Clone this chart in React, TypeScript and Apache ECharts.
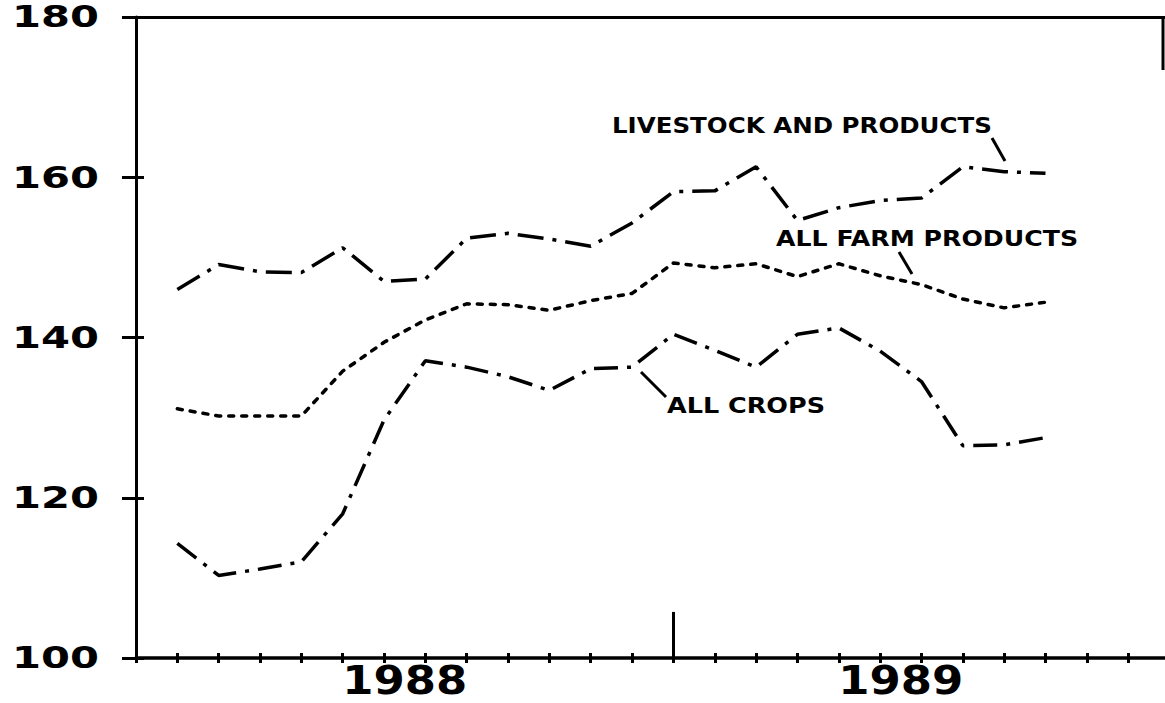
import { useEffect, useRef } from "react";
import * as echarts from "echarts";

// Monthly index: 1 = Jan 1988 ... 22 = Oct 1989
const months = [
  "Jan 1988", "Feb 1988", "Mar 1988", "Apr 1988", "May 1988", "Jun 1988",
  "Jul 1988", "Aug 1988", "Sep 1988", "Oct 1988", "Nov 1988", "Dec 1988",
  "Jan 1989", "Feb 1989", "Mar 1989", "Apr 1989", "May 1989", "Jun 1989",
  "Jul 1989", "Aug 1989", "Sep 1989", "Oct 1989",
];
const livestock = [
  146.0, 149.1, 148.2, 148.1, 151.2, 147.0, 147.3, 152.4, 153.0, 152.3, 151.4,
  154.3, 158.2, 158.3, 161.3, 154.6, 156.2, 157.1, 157.4, 161.3, 160.7, 160.5,
];
const allFarm = [
  131.1, 130.2, 130.2, 130.2, 135.8, 139.4, 142.2, 144.2, 144.1, 143.4, 144.6,
  145.5, 149.3, 148.7, 149.2, 147.6, 149.2, 147.7, 146.6, 144.8, 143.7, 144.4,
];
const allCrops = [
  114.3, 110.3, 111.1, 112.0, 118.0, 129.7, 137.1, 136.3, 135.1, 133.4, 136.1,
  136.3, 140.4, 138.4, 136.3, 140.4, 141.2, 138.3, 134.5, 126.5, 126.6, 127.5,
];
const yTickLabels = [100, 120, 140, 160, 180];
const years = ["1988", "1989"];
const yearCenters = [6.5, 18.5];
const yearMarkMonth = 13;
const yearMarkTop = 105.75;
const yMin = 100;
const yMax = 180;
const yStep = 20;
const xMin = 0;
const xMax = 25;

const LABEL_FONT = "bold 22px 'DejaVu Sans'";
const YLAB_FONT = "bold 30px 'DejaVu Sans'";
const YEAR_FONT = "bold 39px 'DejaVu Sans'";

function measure(text: string, font: string): number {
  const c = document.createElement("canvas");
  const ctx = c.getContext("2d");
  if (!ctx) return text.length * 14;
  ctx.font = font;
  return ctx.measureText(text).width;
}

export default function App() {
  const ref = useRef<HTMLDivElement>(null);

  useEffect(() => {
    document.body.style.margin = "0";
    if (!ref.current) return;
    const chart = echarts.init(ref.current, undefined, { renderer: "svg" });

    const annot = (text: string, x: number, y: number, w: number) => ({
      type: "text",
      x,
      y,
      scaleX: w / measure(text, LABEL_FONT),
      z: 10,
      style: {
        text,
        font: LABEL_FONT,
        fill: "#000",
        textAlign: "left",
        textVerticalAlign: "middle",
      },
    });
    const leader = (x1: number, y1: number, x2: number, y2: number) => ({
      type: "line",
      z: 10,
      shape: { x1, y1, x2, y2 },
      style: { stroke: "#000", lineWidth: 3 },
    });

    const lineSeries = (name: string, vals: number[], dash: number[], cap: string) => ({
      name,
      type: "line",
      data: months.map((_, i) => [i + 1, vals[i]]),
      symbol: "none",
      showSymbol: false,
      smooth: false,
      lineStyle: { color: "#000", width: 3.5, type: dash, cap },
      xAxisIndex: 0,
      yAxisIndex: 0,
    });

    const ySX = 87 / measure("180", YLAB_FONT);
    const yearSX = 125 / measure("1988", YEAR_FONT);

    const hiddenY = {
      type: "value",
      min: yMin,
      max: yMax,
      interval: yStep,
      axisLine: { show: false },
      axisLabel: { show: false },
      splitLine: { show: false },
    };
    const baseX = {
      type: "value",
      min: xMin,
      max: xMax,
      interval: 1,
      position: "bottom",
      axisLine: { show: false },
      axisLabel: { show: false },
      splitLine: { show: false },
    };

    chart.setOption({
      animation: false,
      backgroundColor: "#fff",
      grid: {
        left: 136,
        right: -4.5,
        top: 17,
        bottom: 45,
        containLabel: false,
        outerBoundsMode: "none",
      },
      xAxis: [
        {
          ...baseX,
          axisLine: { show: true, lineStyle: { color: "#000", width: 3.5 } },
          axisTick: { show: true, inside: false, length: 5, lineStyle: { color: "#000", width: 3 } },
        },
        {
          ...baseX,
          axisTick: { show: true, inside: true, length: 5, lineStyle: { color: "#000", width: 3 } },
        },
        {
          ...baseX,
          position: "top",
          axisLine: { show: true, lineStyle: { color: "#000", width: 3 } },
          axisTick: { show: false },
        },
      ],
      yAxis: [
        {
          type: "value",
          min: yMin,
          max: yMax,
          interval: yStep,
          position: "left",
          axisLine: { show: true, lineStyle: { color: "#000", width: 3 } },
          axisTick: { show: true, inside: false, length: 8, lineStyle: { color: "#000", width: 3 } },
          splitLine: { show: false },
          axisLabel: { show: false },
        },
        {
          ...hiddenY,
          position: "left",
          axisTick: { show: true, inside: true, length: 8, lineStyle: { color: "#000", width: 3 } },
        },
        {
          ...hiddenY,
          position: "right",
          axisTick: { show: true, inside: true, length: 14, lineStyle: { color: "#000", width: 3 } },
        },
      ],
      series: [
        {
          ...lineSeries("LIVESTOCK AND PRODUCTS", livestock, [26, 9, 4, 9], "butt"),
          markLine: {
            silent: true,
            symbol: ["none", "none"],
            label: { show: false },
            lineStyle: { color: "#000", width: 3, type: "solid" },
            data: [[{ coord: [yearMarkMonth, yMin] }, { coord: [yearMarkMonth, yearMarkTop] }]],
          },
        },
        lineSeries("ALL FARM PRODUCTS", allFarm, [5, 8], "round"),
        lineSeries("ALL CROPS", allCrops, [24, 9, 4, 9], "butt"),
        {
          name: "y labels",
          type: "custom",
          silent: true,
          clip: false,
          xAxisIndex: 0,
          yAxisIndex: 0,
          data: yTickLabels.map((v) => [xMin, v]),
          renderItem: (_p: any, api: any) => {
            const pt = api.coord([api.value(0), api.value(1)]);
            return {
              type: "text",
              x: pt[0] - 37,
              y: pt[1],
              scaleX: ySX,
              style: {
                text: String(api.value(1)),
                font: YLAB_FONT,
                fill: "#000",
                textAlign: "right",
                textVerticalAlign: "middle",
                align: "right",
                verticalAlign: "middle",
              },
            };
          },
        },
        {
          name: "year labels",
          type: "custom",
          silent: true,
          clip: false,
          xAxisIndex: 0,
          yAxisIndex: 0,
          data: yearCenters.map((c, i) => [c, yMin, i]),
          renderItem: (_p: any, api: any) => {
            const pt = api.coord([api.value(0), api.value(1)]);
            return {
              type: "text",
              x: pt[0],
              y: pt[1] + 3,
              scaleX: yearSX,
              style: {
                text: years[api.value(2)],
                font: YEAR_FONT,
                fill: "#000",
                textAlign: "center",
                textVerticalAlign: "top",
                align: "center",
                verticalAlign: "top",
              },
            };
          },
        },
      ],
      graphic: [
        annot("LIVESTOCK AND PRODUCTS", 612, 125, 380),
        annot("ALL FARM PRODUCTS", 776, 239, 302),
        annot("ALL CROPS", 667, 406, 158),
        leader(992, 138, 1005, 161),
        leader(899, 252, 912, 274),
        leader(641, 372, 666, 397),
        leader(1163, 17, 1163, 70),
      ],
    });

    return () => chart.dispose();
  }, []);

  return <div ref={ref} style={{ width: 1165, height: 703 }} />;
}
